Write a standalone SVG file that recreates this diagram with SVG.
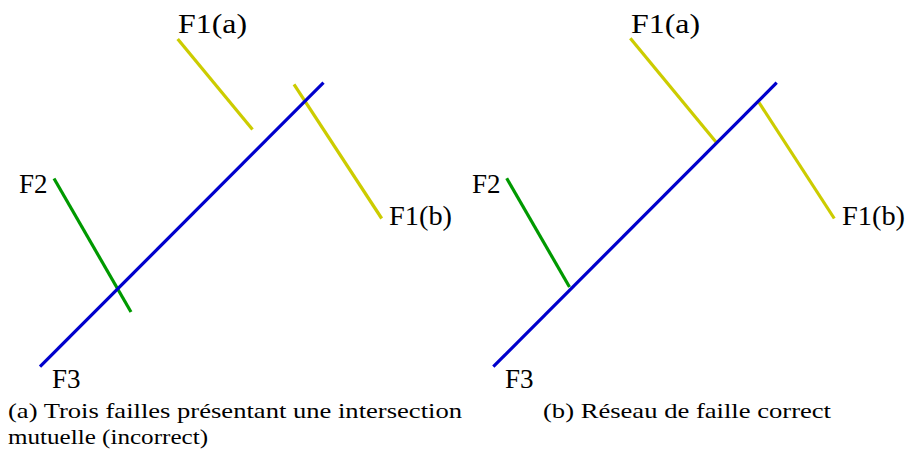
<svg xmlns="http://www.w3.org/2000/svg" width="906" height="454" viewBox="0 0 906 454">
<defs>
<style>
.f{fill:none;stroke-width:3.2;stroke-linecap:butt}
.b{stroke:#0000cc}.g{stroke:#009900}.y{stroke:#cccc00}
</style>
</defs>
<rect width="906" height="454" fill="#fff"/>
<g id="panel-a">
  <g id="connectors-a">
    <line id="a-F2" class="f g" x1="54" y1="178.5" x2="131" y2="312"/>
    <line id="a-F1a" class="f y" x1="177.7" y1="39" x2="252.5" y2="129.5"/>
    <line id="a-F1b" class="f y" x1="294" y1="84.3" x2="381.7" y2="218.5"/>
    <line id="a-F3" class="f b" x1="40" y1="366.7" x2="323.5" y2="82.7"/>
  </g>
  <g id="a-labels" font-family="Liberation Serif" font-size="27" fill="#000">
    <text id="a-n-F1a" x="178" y="33" textLength="69" lengthAdjust="spacingAndGlyphs">F1(a)</text>
    <text id="a-n-F2" x="19" y="193">F2</text>
    <text id="a-n-F1b" x="389" y="225" textLength="63" lengthAdjust="spacingAndGlyphs">F1(b)</text>
    <text id="a-n-F3" x="52" y="388">F3</text>
  </g>
  <g id="a-caption" font-family="Liberation Serif" font-size="21" fill="#000">
    <text x="8" y="418" textLength="454" lengthAdjust="spacingAndGlyphs">(a) Trois failles présentant une intersection</text>
    <text x="8" y="444" textLength="200" lengthAdjust="spacingAndGlyphs">mutuelle (incorrect)</text>
  </g>
</g>
<g id="panel-b">
  <g id="connectors-b">
    <line id="b-F2" class="f g" x1="506.7" y1="178.3" x2="569.5" y2="287"/>
    <line id="b-F1a" class="f y" x1="630.3" y1="38.3" x2="716" y2="142"/>
    <line id="b-F1b" class="f y" x1="759" y1="102.5" x2="834.3" y2="218.5"/>
    <line id="b-F3" class="f b" x1="493.3" y1="366.7" x2="776.7" y2="82.7"/>
  </g>
  <g id="b-labels" font-family="Liberation Serif" font-size="27" fill="#000">
    <text id="b-n-F1a" x="631" y="33" textLength="69" lengthAdjust="spacingAndGlyphs">F1(a)</text>
    <text id="b-n-F2" x="472" y="193">F2</text>
    <text id="b-n-F1b" x="842" y="225" textLength="63" lengthAdjust="spacingAndGlyphs">F1(b)</text>
    <text id="b-n-F3" x="505" y="388">F3</text>
  </g>
  <g id="b-caption" font-family="Liberation Serif" font-size="21" fill="#000">
    <text x="543" y="418" textLength="288" lengthAdjust="spacingAndGlyphs">(b) Réseau de faille correct</text>
  </g>
</g>
</svg>
